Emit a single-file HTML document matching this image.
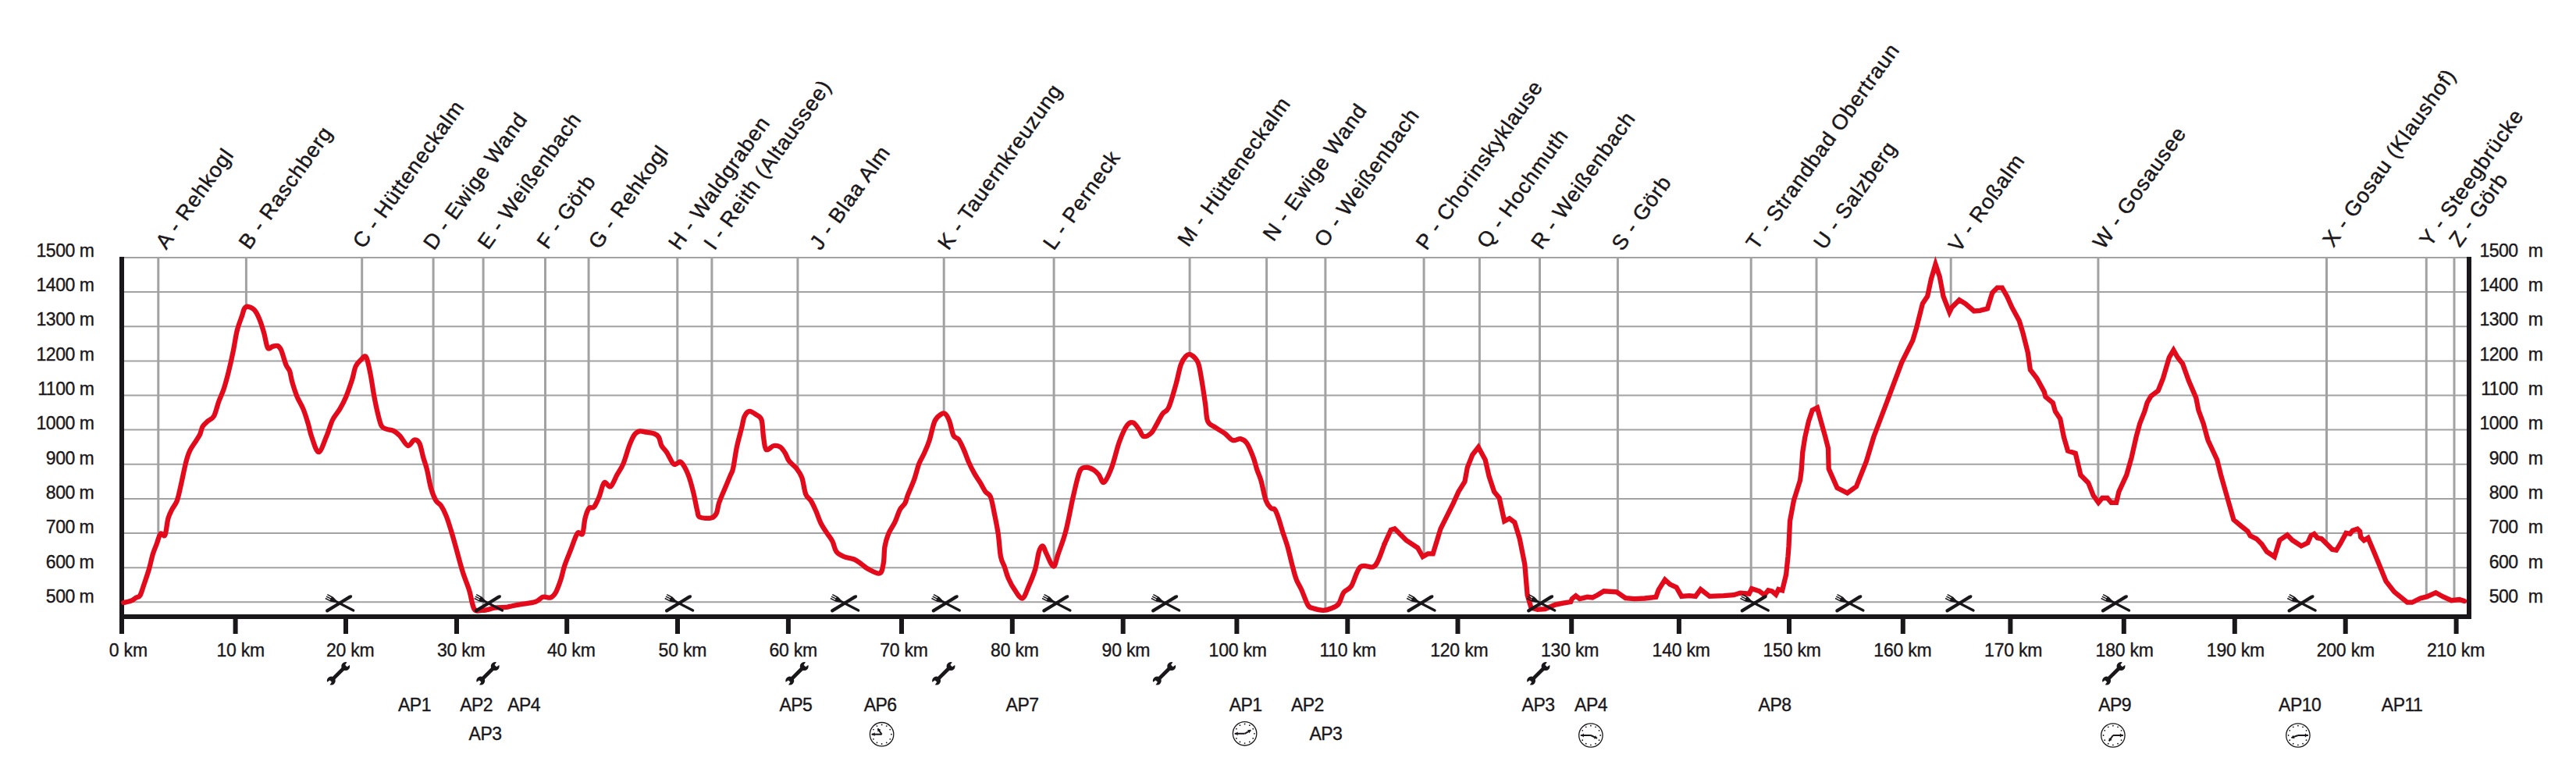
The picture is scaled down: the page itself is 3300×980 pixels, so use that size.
<!DOCTYPE html><html><head><meta charset="utf-8"><style>html,body{margin:0;padding:0;background:#fff;}body{width:3300px;height:980px;overflow:hidden;position:relative;}svg{position:absolute;left:0;top:0;}text{font-family:"Liberation Sans",sans-serif;fill:#1a171b;stroke:#1a171b;stroke-width:0.35px;}</style></head><body>
<svg width="3300" height="980" viewBox="0 0 3300 980">
<line x1="159" y1="330.0" x2="3160" y2="330.0" stroke="#a2a2a2" stroke-width="2"/>
<line x1="159" y1="374.1" x2="3160" y2="374.1" stroke="#a2a2a2" stroke-width="2"/>
<line x1="159" y1="418.3" x2="3160" y2="418.3" stroke="#a2a2a2" stroke-width="2"/>
<line x1="159" y1="462.4" x2="3160" y2="462.4" stroke="#a2a2a2" stroke-width="2"/>
<line x1="159" y1="506.5" x2="3160" y2="506.5" stroke="#a2a2a2" stroke-width="2"/>
<line x1="159" y1="550.6" x2="3160" y2="550.6" stroke="#a2a2a2" stroke-width="2"/>
<line x1="159" y1="594.8" x2="3160" y2="594.8" stroke="#a2a2a2" stroke-width="2"/>
<line x1="159" y1="638.9" x2="3160" y2="638.9" stroke="#a2a2a2" stroke-width="2"/>
<line x1="159" y1="683.0" x2="3160" y2="683.0" stroke="#a2a2a2" stroke-width="2"/>
<line x1="159" y1="727.2" x2="3160" y2="727.2" stroke="#a2a2a2" stroke-width="2"/>
<line x1="159" y1="771.3" x2="3160" y2="771.3" stroke="#a2a2a2" stroke-width="2"/>
<line x1="202.8" y1="329" x2="202.8" y2="691.3" stroke="#a2a2a2" stroke-width="3"/>
<line x1="315.4" y1="329" x2="315.4" y2="394.1" stroke="#a2a2a2" stroke-width="3"/>
<line x1="463.7" y1="329" x2="463.7" y2="459.6" stroke="#a2a2a2" stroke-width="3"/>
<line x1="555.1" y1="329" x2="555.1" y2="632.8" stroke="#a2a2a2" stroke-width="3"/>
<line x1="619.1" y1="329" x2="619.1" y2="781.6" stroke="#a2a2a2" stroke-width="3"/>
<line x1="698.5" y1="329" x2="698.5" y2="765.0" stroke="#a2a2a2" stroke-width="3"/>
<line x1="754.1" y1="329" x2="754.1" y2="651.9" stroke="#a2a2a2" stroke-width="3"/>
<line x1="867.8" y1="329" x2="867.8" y2="593.7" stroke="#a2a2a2" stroke-width="3"/>
<line x1="911.9" y1="329" x2="911.9" y2="662.9" stroke="#a2a2a2" stroke-width="3"/>
<line x1="1021.9" y1="329" x2="1021.9" y2="602.6" stroke="#a2a2a2" stroke-width="3"/>
<line x1="1209.2" y1="329" x2="1209.2" y2="530.4" stroke="#a2a2a2" stroke-width="3"/>
<line x1="1350.1" y1="329" x2="1350.1" y2="724.3" stroke="#a2a2a2" stroke-width="3"/>
<line x1="1524.1" y1="329" x2="1524.1" y2="454.7" stroke="#a2a2a2" stroke-width="3"/>
<line x1="1622.6" y1="329" x2="1622.6" y2="642.5" stroke="#a2a2a2" stroke-width="3"/>
<line x1="1697.9" y1="329" x2="1697.9" y2="781.2" stroke="#a2a2a2" stroke-width="3"/>
<line x1="1824.1" y1="329" x2="1824.1" y2="712.3" stroke="#a2a2a2" stroke-width="3"/>
<line x1="1895.4" y1="329" x2="1895.4" y2="575.5" stroke="#a2a2a2" stroke-width="3"/>
<line x1="1972.5" y1="329" x2="1972.5" y2="780.6" stroke="#a2a2a2" stroke-width="3"/>
<line x1="2072.4" y1="329" x2="2072.4" y2="759.3" stroke="#a2a2a2" stroke-width="3"/>
<line x1="2243.2" y1="329" x2="2243.2" y2="755.6" stroke="#a2a2a2" stroke-width="3"/>
<line x1="2327" y1="329" x2="2327" y2="522.8" stroke="#a2a2a2" stroke-width="3"/>
<line x1="2499.2" y1="329" x2="2499.2" y2="396.3" stroke="#a2a2a2" stroke-width="3"/>
<line x1="2687.9" y1="329" x2="2687.9" y2="643.5" stroke="#a2a2a2" stroke-width="3"/>
<line x1="2980.5" y1="329" x2="2980.5" y2="696.6" stroke="#a2a2a2" stroke-width="3"/>
<line x1="3108.3" y1="329" x2="3108.3" y2="764.6" stroke="#a2a2a2" stroke-width="3"/>
<line x1="3144" y1="329" x2="3144" y2="768.8" stroke="#a2a2a2" stroke-width="3"/>
<rect x="153" y="329" width="6" height="483" fill="#1a171b"/>
<rect x="3160" y="329" width="6" height="464" fill="#1a171b"/>
<rect x="153" y="787" width="3013" height="6" fill="#1a171b"/>
<rect x="298.6" y="790" width="6" height="22" fill="#1a171b"/>
<rect x="440.0" y="790" width="6" height="22" fill="#1a171b"/>
<rect x="582.0" y="790" width="6" height="22" fill="#1a171b"/>
<rect x="723.2" y="790" width="6" height="22" fill="#1a171b"/>
<rect x="865.0" y="790" width="6" height="22" fill="#1a171b"/>
<rect x="1006.9" y="790" width="6" height="22" fill="#1a171b"/>
<rect x="1152.0" y="790" width="6" height="22" fill="#1a171b"/>
<rect x="1293.8" y="790" width="6" height="22" fill="#1a171b"/>
<rect x="1435.7" y="790" width="6" height="22" fill="#1a171b"/>
<rect x="1581.4" y="790" width="6" height="22" fill="#1a171b"/>
<rect x="1723.3" y="790" width="6" height="22" fill="#1a171b"/>
<rect x="1864.5" y="790" width="6" height="22" fill="#1a171b"/>
<rect x="2010.2" y="790" width="6" height="22" fill="#1a171b"/>
<rect x="2147.9" y="790" width="6" height="22" fill="#1a171b"/>
<rect x="2289.0" y="790" width="6" height="22" fill="#1a171b"/>
<rect x="2434.8" y="790" width="6" height="22" fill="#1a171b"/>
<rect x="2572.4" y="790" width="6" height="22" fill="#1a171b"/>
<rect x="2717.8" y="790" width="6" height="22" fill="#1a171b"/>
<rect x="2859.8" y="790" width="6" height="22" fill="#1a171b"/>
<rect x="3001.7" y="790" width="6" height="22" fill="#1a171b"/>
<rect x="3143.6" y="790" width="6" height="22" fill="#1a171b"/>
<text x="120.3" y="328.6" font-size="23" letter-spacing="-0.5" text-anchor="end">1500 m</text>
<text x="3257.3" y="328.6" font-size="23" letter-spacing="-0.5" text-anchor="end">1500<tspan dx="13">m</tspan></text>
<text x="120.3" y="372.9" font-size="23" letter-spacing="-0.5" text-anchor="end">1400 m</text>
<text x="3257.3" y="372.9" font-size="23" letter-spacing="-0.5" text-anchor="end">1400<tspan dx="13">m</tspan></text>
<text x="120.3" y="417.3" font-size="23" letter-spacing="-0.5" text-anchor="end">1300 m</text>
<text x="3257.3" y="417.3" font-size="23" letter-spacing="-0.5" text-anchor="end">1300<tspan dx="13">m</tspan></text>
<text x="120.3" y="461.6" font-size="23" letter-spacing="-0.5" text-anchor="end">1200 m</text>
<text x="3257.3" y="461.6" font-size="23" letter-spacing="-0.5" text-anchor="end">1200<tspan dx="13">m</tspan></text>
<text x="120.3" y="506.0" font-size="23" letter-spacing="-0.5" text-anchor="end">1100 m</text>
<text x="3257.3" y="506.0" font-size="23" letter-spacing="-0.5" text-anchor="end">1100<tspan dx="13">m</tspan></text>
<text x="120.3" y="550.3" font-size="23" letter-spacing="-0.5" text-anchor="end">1000 m</text>
<text x="3257.3" y="550.3" font-size="23" letter-spacing="-0.5" text-anchor="end">1000<tspan dx="13">m</tspan></text>
<text x="120.3" y="594.6" font-size="23" letter-spacing="-0.5" text-anchor="end">900 m</text>
<text x="3257.3" y="594.6" font-size="23" letter-spacing="-0.5" text-anchor="end">900<tspan dx="13">m</tspan></text>
<text x="120.3" y="639.0" font-size="23" letter-spacing="-0.5" text-anchor="end">800 m</text>
<text x="3257.3" y="639.0" font-size="23" letter-spacing="-0.5" text-anchor="end">800<tspan dx="13">m</tspan></text>
<text x="120.3" y="683.3" font-size="23" letter-spacing="-0.5" text-anchor="end">700 m</text>
<text x="3257.3" y="683.3" font-size="23" letter-spacing="-0.5" text-anchor="end">700<tspan dx="13">m</tspan></text>
<text x="120.3" y="727.7" font-size="23" letter-spacing="-0.5" text-anchor="end">600 m</text>
<text x="3257.3" y="727.7" font-size="23" letter-spacing="-0.5" text-anchor="end">600<tspan dx="13">m</tspan></text>
<text x="120.3" y="772.0" font-size="23" letter-spacing="-0.5" text-anchor="end">500 m</text>
<text x="3257.3" y="772.0" font-size="23" letter-spacing="-0.5" text-anchor="end">500<tspan dx="13">m</tspan></text>
<text x="139.8" y="840.5" font-size="23" letter-spacing="-0.2">0 km</text>
<text x="277.4" y="840.5" font-size="23" letter-spacing="-0.2">10 km</text>
<text x="417.9" y="840.5" font-size="23" letter-spacing="-0.2">20 km</text>
<text x="559.9" y="840.5" font-size="23" letter-spacing="-0.2">30 km</text>
<text x="701" y="840.5" font-size="23" letter-spacing="-0.2">40 km</text>
<text x="843.6" y="840.5" font-size="23" letter-spacing="-0.2">50 km</text>
<text x="985.4" y="840.5" font-size="23" letter-spacing="-0.2">60 km</text>
<text x="1127.2" y="840.5" font-size="23" letter-spacing="-0.2">70 km</text>
<text x="1269.1" y="840.5" font-size="23" letter-spacing="-0.2">80 km</text>
<text x="1411.6" y="840.5" font-size="23" letter-spacing="-0.2">90 km</text>
<text x="1548.6" y="840.5" font-size="23" letter-spacing="-0.2">100 km</text>
<text x="1690.4" y="840.5" font-size="23" letter-spacing="-0.2">110 km</text>
<text x="1832.2" y="840.5" font-size="23" letter-spacing="-0.2">120 km</text>
<text x="1974" y="840.5" font-size="23" letter-spacing="-0.2">130 km</text>
<text x="2116.6" y="840.5" font-size="23" letter-spacing="-0.2">140 km</text>
<text x="2258.5" y="840.5" font-size="23" letter-spacing="-0.2">150 km</text>
<text x="2400.3" y="840.5" font-size="23" letter-spacing="-0.2">160 km</text>
<text x="2542.1" y="840.5" font-size="23" letter-spacing="-0.2">170 km</text>
<text x="2684.6" y="840.5" font-size="23" letter-spacing="-0.2">180 km</text>
<text x="2826.8" y="840.5" font-size="23" letter-spacing="-0.2">190 km</text>
<text x="2967.7" y="840.5" font-size="23" letter-spacing="-0.2">200 km</text>
<text x="3108.9" y="840.5" font-size="23" letter-spacing="-0.2">210 km</text>
<text x="510" y="910.5" font-size="23" letter-spacing="-0.5">AP1</text>
<text x="589.2" y="910.5" font-size="23" letter-spacing="-0.5">AP2</text>
<text x="650.2" y="910.5" font-size="23" letter-spacing="-0.5">AP4</text>
<text x="998.4" y="910.5" font-size="23" letter-spacing="-0.5">AP5</text>
<text x="1106.7" y="910.5" font-size="23" letter-spacing="-0.5">AP6</text>
<text x="1288.6" y="910.5" font-size="23" letter-spacing="-0.5">AP7</text>
<text x="1574.7" y="910.5" font-size="23" letter-spacing="-0.5">AP1</text>
<text x="1653.9" y="910.5" font-size="23" letter-spacing="-0.5">AP2</text>
<text x="1949.6" y="910.5" font-size="23" letter-spacing="-0.5">AP3</text>
<text x="2017.1" y="910.5" font-size="23" letter-spacing="-0.5">AP4</text>
<text x="2252.6" y="910.5" font-size="23" letter-spacing="-0.5">AP8</text>
<text x="2688.2" y="910.5" font-size="23" letter-spacing="-0.5">AP9</text>
<text x="2919.1" y="910.5" font-size="23" letter-spacing="-0.5">AP10</text>
<text x="3050.8" y="910.5" font-size="23" letter-spacing="-0.5">AP11</text>
<text x="600.6" y="948" font-size="23" letter-spacing="-0.5">AP3</text>
<text x="1677.4" y="948" font-size="23" letter-spacing="-0.5">AP3</text>
<text x="0" y="0" font-size="27" letter-spacing="1.0" style="stroke-width:0.45px" transform="translate(213.0,320.8) rotate(-54.5)">A - Rehkogl</text>
<text x="0" y="0" font-size="27" letter-spacing="1.0" style="stroke-width:0.45px" transform="translate(319.4,321.0) rotate(-54.5)">B - Raschberg</text>
<text x="0" y="0" font-size="27" letter-spacing="1.0" style="stroke-width:0.45px" transform="translate(465.4,319.8) rotate(-54.5)">C - Hütteneckalm</text>
<text x="0" y="0" font-size="27" letter-spacing="1.0" style="stroke-width:0.45px" transform="translate(555.9,321.8) rotate(-54.5)">D - Ewige Wand</text>
<text x="0" y="0" font-size="27" letter-spacing="1.0" style="stroke-width:0.45px" transform="translate(625.5,321.0) rotate(-54.5)">E - Weißenbach</text>
<text x="0" y="0" font-size="27" letter-spacing="1.0" style="stroke-width:0.45px" transform="translate(701.4,320.6) rotate(-54.5)">F - Görb</text>
<text x="0" y="0" font-size="27" letter-spacing="1.0" style="stroke-width:0.45px" transform="translate(767.4,320.8) rotate(-54.5)">G - Rehkogl</text>
<text x="0" y="0" font-size="27" letter-spacing="1.0" style="stroke-width:0.45px" transform="translate(870.1,321.8) rotate(-54.5)">H - Waldgraben</text>
<text x="0" y="0" font-size="27" letter-spacing="1.0" style="stroke-width:0.45px" transform="translate(915.3,321.8) rotate(-54.5)">I - Reith (Altaussee)</text>
<text x="0" y="0" font-size="27" letter-spacing="1.0" style="stroke-width:0.45px" transform="translate(1051.0,321.8) rotate(-54.5)">J - Blaa Alm</text>
<text x="0" y="0" font-size="27" letter-spacing="1.0" style="stroke-width:0.45px" transform="translate(1214.9,321.8) rotate(-54.5)">K - Tauernkreuzung</text>
<text x="0" y="0" font-size="27" letter-spacing="1.0" style="stroke-width:0.45px" transform="translate(1350.1,321.8) rotate(-54.5)">L - Perneck</text>
<text x="0" y="0" font-size="27" letter-spacing="1.0" style="stroke-width:0.45px" transform="translate(1522.3,317.6) rotate(-54.5)">M - Hütteneckalm</text>
<text x="0" y="0" font-size="27" letter-spacing="1.0" style="stroke-width:0.45px" transform="translate(1631.5,310.4) rotate(-54.5)">N - Ewige Wand</text>
<text x="0" y="0" font-size="27" letter-spacing="1.0" style="stroke-width:0.45px" transform="translate(1697.3,318.2) rotate(-54.5)">O - Weißenbach</text>
<text x="0" y="0" font-size="27" letter-spacing="1.0" style="stroke-width:0.45px" transform="translate(1827.5,321.8) rotate(-54.5)">P - Chorinskyklause</text>
<text x="0" y="0" font-size="27" letter-spacing="1.0" style="stroke-width:0.45px" transform="translate(1905.6,319.8) rotate(-54.5)">Q - Hochmuth</text>
<text x="0" y="0" font-size="27" letter-spacing="1.0" style="stroke-width:0.45px" transform="translate(1975.0,321.0) rotate(-54.5)">R - Weißenbach</text>
<text x="0" y="0" font-size="27" letter-spacing="1.0" style="stroke-width:0.45px" transform="translate(2078.3,322.8) rotate(-54.5)">S - Görb</text>
<text x="0" y="0" font-size="27" letter-spacing="1.0" style="stroke-width:0.45px" transform="translate(2250.6,321.4) rotate(-54.5)">T - Strandbad Obertraun</text>
<text x="0" y="0" font-size="27" letter-spacing="1.0" style="stroke-width:0.45px" transform="translate(2336.9,321.2) rotate(-54.5)">U - Salzberg</text>
<text x="0" y="0" font-size="27" letter-spacing="1.0" style="stroke-width:0.45px" transform="translate(2509.7,324.6) rotate(-54.5)">V - Roßalm</text>
<text x="0" y="0" font-size="27" letter-spacing="1.0" style="stroke-width:0.45px" transform="translate(2694.7,320.8) rotate(-54.5)">W - Gosausee</text>
<text x="0" y="0" font-size="27" letter-spacing="1.0" style="stroke-width:0.45px" transform="translate(2989.3,318.0) rotate(-54.5)">X - Gosau (Klaushof)</text>
<text x="0" y="0" font-size="27" letter-spacing="1.0" style="stroke-width:0.45px" transform="translate(3113.2,317.4) rotate(-54.5)">Y - Steegbrücke</text>
<text x="0" y="0" font-size="27" letter-spacing="1.0" style="stroke-width:0.45px" transform="translate(3151.0,318.0) rotate(-54.5)">Z - Görb</text>
<path d="M158.2,772.0 C159.8,771.6 165.3,770.8 168.0,769.7 C170.7,768.6 172.6,766.6 174.5,765.5 C176.4,764.4 177.8,765.6 179.4,762.9 C181.0,760.2 182.4,754.8 184.3,749.2 C186.2,743.6 188.9,736.0 190.8,729.5 C192.7,723.0 194.2,715.3 195.8,709.9 C197.5,704.5 199.1,701.2 200.7,696.9 C202.3,692.5 203.8,685.7 205.6,683.8 C207.4,681.9 209.8,688.7 211.4,685.4 C213.0,682.1 213.9,669.7 215.4,664.2 C216.9,658.8 218.4,656.5 220.3,652.7 C222.2,648.9 224.9,646.5 226.8,641.3 C228.7,636.1 229.8,629.9 231.7,621.7 C233.6,613.5 236.3,599.6 238.2,592.3 C240.1,584.9 240.9,582.2 243.1,577.6 C245.3,573.0 249.1,568.0 251.3,564.5 C253.5,561.0 254.8,559.3 256.2,556.3 C257.6,553.3 257.9,549.3 259.5,546.5 C261.1,543.7 263.6,541.8 266.0,539.6 C268.4,537.4 271.5,537.5 273.9,533.3 C276.3,529.1 278.1,520.2 280.2,514.5 C282.3,508.8 284.4,505.1 286.5,498.8 C288.6,492.5 290.6,485.2 292.7,476.8 C294.8,468.4 297.2,457.5 299.0,448.6 C300.8,439.7 301.9,430.8 303.7,423.5 C305.5,416.2 308.4,409.4 310.0,404.7 C311.6,400.0 311.8,397.3 313.1,395.3 C314.4,393.3 315.7,392.5 317.8,392.8 C319.9,393.1 323.4,394.4 325.7,396.9 C328.0,399.4 329.8,402.8 331.9,407.8 C334.0,412.8 336.4,420.4 338.2,426.7 C340.0,433.0 341.1,442.6 342.9,445.5 C344.7,448.4 347.1,444.3 349.2,443.9 C351.3,443.5 353.7,442.2 355.5,443.0 C357.3,443.8 358.4,444.5 360.2,448.6 C362.0,452.7 364.6,462.9 366.4,467.4 C368.2,471.8 369.8,471.6 371.1,475.3 C372.4,479.0 372.7,483.9 374.3,489.4 C375.9,494.9 378.2,502.4 380.6,508.2 C383.0,514.0 386.0,518.1 388.4,523.9 C390.8,529.6 392.9,536.7 394.7,542.7 C396.5,548.7 397.1,553.9 399.4,560.0 C401.6,566.1 405.1,579.3 408.2,579.2 C411.3,579.1 415.0,566.5 418.0,559.6 C421.0,552.7 423.1,544.0 426.0,538.0 C428.9,532.0 432.5,528.9 435.4,523.9 C438.3,518.9 440.7,514.5 443.3,508.2 C445.9,501.9 449.0,492.7 451.1,486.2 C453.2,479.7 453.7,473.4 455.8,469.0 C457.9,464.6 461.9,461.7 463.7,459.6 C465.5,457.5 465.8,456.5 466.8,456.5 C467.9,456.5 468.7,455.7 470.0,459.6 C471.3,463.5 473.1,471.9 474.7,480.0 C476.3,488.1 477.8,499.8 479.4,508.2 C481.0,516.6 482.5,523.9 484.1,530.2 C485.7,536.5 487.0,542.6 488.8,545.8 C490.6,549.0 492.4,548.5 495.0,549.6 C497.6,550.7 501.6,550.6 504.5,552.1 C507.4,553.6 509.3,555.2 512.3,558.4 C515.3,561.5 519.4,570.1 522.5,571.0 C525.6,571.9 528.2,564.0 530.7,563.5 C533.2,563.0 535.4,564.1 537.3,567.8 C539.2,571.5 540.6,580.1 542.2,585.8 C543.8,591.5 545.5,595.6 547.1,602.1 C548.7,608.6 550.1,618.5 552.0,625.0 C553.9,631.5 556.3,637.5 558.5,641.3 C560.7,645.1 562.8,644.5 565.0,647.8 C567.2,651.1 569.4,655.4 571.6,660.9 C573.8,666.4 575.9,673.4 578.1,680.5 C580.3,687.6 582.2,694.7 584.6,703.4 C587.0,712.1 590.1,724.1 592.8,732.8 C595.5,741.5 598.5,747.8 601.0,755.7 C603.5,763.6 604.8,775.9 607.5,780.2 C610.2,784.6 614.6,781.6 617.3,781.8 C620.0,782.0 621.2,781.7 623.9,781.2 C626.6,780.7 629.6,779.2 633.7,778.6 C637.8,778.0 645.2,778.2 648.4,777.9 C651.6,777.6 650.1,777.5 653.1,776.9 C656.1,776.3 660.7,775.3 666.1,774.3 C671.5,773.3 680.9,772.6 685.8,771.0 C690.7,769.4 692.3,765.7 695.6,764.8 C698.9,763.9 702.7,766.5 705.4,765.5 C708.1,764.5 709.7,762.8 711.9,759.0 C714.1,755.2 716.5,748.3 718.4,742.6 C720.3,736.9 721.1,731.1 723.3,724.6 C725.5,718.1 728.8,710.3 731.5,703.4 C734.2,696.5 737.2,686.4 739.7,683.1 C742.2,679.8 744.6,686.9 746.2,683.8 C747.8,680.6 748.1,669.7 749.5,664.2 C750.9,658.8 752.5,653.6 754.4,651.1 C756.3,648.6 758.7,652.0 760.9,649.5 C763.1,647.0 765.3,641.6 767.5,636.4 C769.7,631.2 771.5,620.6 774.0,618.4 C776.5,616.2 779.5,624.9 782.2,623.3 C784.9,621.7 787.6,613.5 790.3,608.6 C793.0,603.7 795.8,600.4 798.5,593.9 C801.2,587.4 804.2,575.7 806.7,569.4 C809.2,563.1 811.0,559.1 813.2,556.3 C815.4,553.5 817.2,552.8 819.7,552.4 C822.2,552.0 825.2,553.2 828.2,553.7 C831.2,554.2 835.0,554.2 837.6,555.3 C840.2,556.3 842.2,557.4 843.9,560.0 C845.5,562.6 845.8,567.8 847.5,571.0 C849.2,574.2 851.5,575.4 854.0,579.2 C856.5,583.0 860.0,591.5 862.2,593.9 C864.4,596.3 865.4,594.2 867.1,593.9 C868.9,593.6 870.2,589.8 872.7,592.3 C875.2,594.8 879.2,602.1 881.8,608.6 C884.4,615.1 886.5,623.9 888.4,631.5 C890.3,639.1 891.9,649.2 893.3,654.4 C894.6,659.6 893.5,661.0 896.5,662.5 C899.5,664.0 907.7,664.3 911.2,663.5 C914.8,662.7 916.2,660.8 917.8,657.6 C919.4,654.5 919.4,649.5 921.0,644.6 C922.6,639.7 925.1,634.2 927.6,628.2 C930.1,622.2 933.9,613.2 935.8,608.6 C937.7,604.0 937.6,606.5 939.0,600.5 C940.4,594.5 942.0,581.7 943.9,572.7 C945.8,563.7 948.9,553.1 950.5,546.5 C952.1,539.9 952.1,536.5 953.7,533.3 C955.3,530.0 957.4,527.3 960.0,527.0 C962.6,526.7 966.8,529.9 969.4,531.7 C972.0,533.5 974.1,533.3 975.6,538.0 C977.1,542.7 977.1,553.7 978.1,560.0 C979.1,566.3 979.3,574.2 981.5,576.0 C983.7,577.8 988.3,571.5 991.3,571.0 C994.3,570.5 997.0,571.1 999.5,572.7 C1002.0,574.3 1004.1,577.8 1006.0,580.8 C1007.9,583.8 1008.4,587.4 1010.9,590.7 C1013.4,594.0 1018.0,597.0 1020.7,600.5 C1023.4,604.0 1025.4,606.5 1027.3,611.9 C1029.2,617.3 1030.3,628.2 1032.2,633.1 C1034.1,638.0 1036.5,637.8 1038.7,641.3 C1040.9,644.8 1043.0,649.5 1045.2,654.4 C1047.4,659.3 1049.3,665.8 1051.8,670.7 C1054.3,675.6 1057.5,680.0 1060.0,683.8 C1062.5,687.6 1064.6,689.8 1066.5,693.6 C1068.4,697.4 1069.0,703.4 1071.4,706.7 C1073.9,710.0 1077.4,711.6 1081.2,713.2 C1085.0,714.8 1090.4,714.9 1094.2,716.5 C1098.0,718.1 1101.0,720.9 1104.0,723.0 C1107.0,725.1 1108.4,727.0 1112.2,728.9 C1116.0,730.8 1123.6,735.6 1126.9,734.4 C1130.2,733.1 1130.7,727.1 1131.8,721.4 C1132.9,715.7 1132.4,706.4 1133.5,700.1 C1134.6,693.8 1136.1,689.0 1138.2,683.8 C1140.3,678.6 1143.8,674.3 1146.3,669.1 C1148.8,663.9 1150.7,656.8 1152.9,652.7 C1155.1,648.6 1157.8,647.6 1159.4,644.6 C1161.0,641.6 1160.8,639.7 1162.7,634.8 C1164.6,629.9 1168.3,622.0 1170.8,615.2 C1173.2,608.4 1175.2,599.6 1177.4,593.9 C1179.6,588.2 1181.7,585.7 1183.9,580.8 C1186.1,575.9 1188.2,571.4 1190.5,564.5 C1192.8,557.6 1194.9,545.2 1197.4,539.6 C1199.9,534.0 1203.0,532.4 1205.3,530.8 C1207.5,529.2 1209.1,528.7 1210.9,530.2 C1212.7,531.7 1214.5,535.0 1216.3,539.6 C1218.1,544.2 1219.5,554.1 1221.5,558.0 C1223.5,561.9 1225.8,559.9 1228.0,562.9 C1230.2,565.9 1232.4,571.0 1234.6,575.9 C1236.8,580.8 1238.9,587.4 1241.1,592.3 C1243.3,597.2 1245.1,601.0 1247.6,605.4 C1250.0,609.8 1253.3,614.3 1255.8,618.4 C1258.3,622.5 1260.2,626.9 1262.4,629.9 C1264.6,632.9 1267.0,631.8 1268.9,636.4 C1270.8,641.0 1272.2,649.7 1273.8,657.6 C1275.4,665.5 1277.3,674.5 1278.7,683.8 C1280.1,693.1 1280.6,706.1 1282.0,713.2 C1283.4,720.3 1285.3,721.7 1286.9,726.3 C1288.5,730.9 1289.6,736.1 1291.8,741.0 C1294.0,745.9 1296.9,751.5 1299.9,755.7 C1302.9,760.0 1306.7,767.3 1309.7,766.5 C1312.7,765.7 1315.2,757.0 1317.9,750.8 C1320.6,744.6 1323.9,736.9 1326.1,729.5 C1328.3,722.1 1329.4,711.7 1331.0,706.7 C1332.6,701.7 1334.3,699.0 1335.9,699.5 C1337.5,700.0 1338.5,705.5 1340.8,709.9 C1343.1,714.2 1347.1,725.6 1349.6,725.6 C1352.0,725.6 1352.9,717.4 1355.5,709.9 C1358.1,702.4 1362.0,693.0 1365.3,680.5 C1368.6,668.0 1372.1,647.6 1375.1,634.8 C1378.1,622.0 1380.6,609.7 1383.3,603.7 C1386.0,597.7 1388.4,599.1 1391.4,598.8 C1394.4,598.5 1398.5,600.5 1401.2,602.1 C1403.9,603.7 1405.6,606.0 1407.8,608.6 C1410.0,611.2 1411.6,619.4 1414.3,617.8 C1417.0,616.2 1420.8,607.4 1424.1,598.8 C1427.4,590.2 1430.6,575.1 1433.9,566.1 C1437.2,557.1 1440.7,549.1 1443.7,545.0 C1446.7,540.9 1449.1,540.6 1451.7,541.5 C1454.3,542.4 1457.2,547.6 1459.4,550.5 C1461.6,553.4 1462.4,558.3 1465.0,559.0 C1467.6,559.7 1472.1,557.2 1474.8,554.7 C1477.5,552.2 1478.9,548.4 1481.3,544.3 C1483.7,540.2 1486.6,533.9 1489.2,530.2 C1491.8,526.5 1494.1,528.6 1497.0,522.3 C1499.9,516.0 1503.8,501.6 1506.4,492.5 C1509.0,483.4 1510.6,473.4 1512.7,467.4 C1514.8,461.4 1516.9,458.7 1519.0,456.5 C1521.1,454.3 1522.6,453.0 1525.2,454.3 C1527.8,455.6 1532.2,459.0 1534.6,464.3 C1536.9,469.6 1537.7,477.3 1539.3,486.2 C1540.9,495.1 1542.8,508.7 1544.1,517.6 C1545.4,526.5 1545.1,534.6 1547.2,539.6 C1549.3,544.6 1552.9,544.8 1556.6,547.4 C1560.2,550.0 1565.3,552.5 1569.1,555.3 C1572.9,558.1 1575.9,562.9 1579.3,564.0 C1582.7,565.1 1586.2,561.6 1589.2,562.2 C1592.2,562.8 1594.6,563.9 1597.3,567.8 C1600.0,571.7 1603.3,580.1 1605.5,585.8 C1607.7,591.5 1608.8,597.2 1610.4,602.1 C1612.0,607.0 1613.4,608.7 1615.3,615.2 C1617.2,621.7 1619.6,635.3 1621.8,641.3 C1624.0,647.3 1626.5,649.2 1628.4,651.1 C1630.3,653.0 1631.5,650.5 1633.1,652.7 C1634.7,654.9 1636.4,659.6 1638.0,664.2 C1639.6,668.8 1641.0,674.5 1642.9,680.5 C1644.8,686.5 1647.2,692.5 1649.4,700.1 C1651.6,707.7 1654.1,719.2 1656.0,726.3 C1657.9,733.4 1658.9,737.7 1660.8,742.6 C1662.7,747.5 1664.9,750.2 1667.4,755.7 C1669.9,761.2 1673.1,771.4 1675.6,775.3 C1678.0,779.2 1678.8,778.1 1682.1,779.2 C1685.4,780.3 1691.4,781.8 1695.2,781.8 C1699.0,781.8 1701.7,780.9 1705.0,779.5 C1708.3,778.1 1712.1,777.1 1714.8,773.7 C1717.5,770.3 1718.6,762.8 1721.3,759.0 C1724.0,755.2 1727.6,756.2 1731.1,750.8 C1734.6,745.3 1737.9,730.4 1742.5,726.3 C1747.1,722.2 1755.1,727.7 1758.9,726.3 C1762.7,724.9 1763.0,723.0 1765.4,718.1 C1767.9,713.2 1772.2,700.4 1773.6,696.9" fill="none" stroke="#e30a1b" stroke-width="6.3" stroke-linejoin="round" stroke-linecap="round"/>
<path d="M1773.6,696.9 L1781.8,678.9 L1786.7,677.3 L1801.4,692.0 L1816.1,701.8 L1822.6,713.2 L1829.2,709.3 L1835.7,709.3 L1845.5,677.3 L1861.8,644.6 L1868.4,629.9 L1876.5,616.8 L1879.8,598.8 L1886.3,582.5 L1893.9,572.7 L1902.7,589.0 L1907.6,610.3 L1914.1,629.9 L1920.7,638.0 L1927.2,667.5 L1933.7,664.2 L1940.3,669.1 L1946.8,690.3 L1953.3,723.0 L1956.6,762.2 L1961.5,778.6 L1969.7,780.8 L1979.5,780.2 L1992.5,774.6 L2002.4,772.7 L2012.2,771.0 L2013.8,767.1 L2018.7,763.2 L2023.6,767.1 L2033.4,764.8 L2040.0,765.5 L2046.5,762.2 L2054.6,757.3 L2071.0,758.3 L2082.4,766.1 L2093.9,767.1 L2106.9,766.5 L2121.4,764.8 L2124.7,755.7 L2132.9,742.6 L2139.4,748.5 L2147.6,752.4 L2154.1,763.9 L2163.9,763.2 L2172.1,763.9 L2178.6,755.0 L2190.1,763.9 L2208.0,763.2 L2221.1,762.2 L2229.3,759.6 L2240.7,760.6 L2244.0,754.0 L2253.8,757.3 L2260.3,762.2 L2265.2,756.3 L2270.1,757.3 L2275.0,761.6 L2278.3,755.0 L2283.2,756.3 L2288.1,736.1 L2290.5,713.0 L2291.5,700.0 L2293.0,667.5 L2297.9,641.3 L2306.1,615.2 L2307.7,602.1 L2309.3,579.2 L2312.3,560.0 L2317.0,539.6 L2321.7,525.5 L2328.0,522.3 L2332.7,539.6 L2338.4,560.0 L2342.0,574.3 L2342.7,600.5 L2353.5,625.0 L2366.5,631.5 L2378.0,623.3 L2391.0,590.7 L2400.2,560.0 L2417.4,514.5 L2436.2,464.3 L2450.3,436.1 L2455.0,420.4 L2462.9,389.0 L2469.2,379.6 L2473.9,357.6 L2479.5,338.5 L2484.8,354.5 L2489.5,379.6 L2497.4,400.0 L2500.5,393.7 L2510.0,384.3 L2517.8,389.0 L2528.8,398.4 L2536.6,397.8 L2546.0,395.3 L2552.3,374.9 L2558.6,368.6 L2564.8,368.6 L2571.1,379.6 L2577.4,393.7 L2586.8,411.0 L2591.5,426.7 L2597.8,451.7 L2600.9,473.7 L2609.4,484.7 L2618.8,501.9 L2620.4,508.2 L2629.8,516.0 L2632.9,527.0 L2639.2,536.4 L2642.3,552.1 L2643.9,560.0 L2649.0,577.6 L2658.8,580.8 L2665.4,608.6 L2675.2,618.4 L2681.7,634.8 L2688.2,643.9 L2693.1,638.0 L2699.7,638.0 L2704.6,643.9 L2711.1,643.9 L2714.4,629.9 L2724.2,608.6 L2730.7,585.8 L2736.5,560.0 L2741.2,542.7 L2747.4,527.0 L2750.6,516.0 L2755.3,507.6 L2764.7,500.4 L2771.0,484.7 L2778.8,458.0 L2784.4,448.6 L2789.8,458.0 L2796.0,465.9 L2803.9,487.8 L2813.3,509.8 L2816.4,525.5 L2822.7,542.7 L2827.4,560.0 L2828.8,564.5 L2840.2,589.0 L2845.1,608.6 L2851.6,631.5 L2861.4,665.8 L2871.2,674.0 L2879.4,680.5 L2882.7,686.4 L2890.8,690.3 L2897.4,696.9 L2903.9,706.7 L2913.7,713.2 L2920.3,692.0 L2930.1,685.4 L2936.6,692.0 L2948.0,699.5 L2956.3,695.4 L2960.5,686.0 L2964.6,683.9 L2968.8,689.1 L2974.0,690.2 L2981.4,697.5 L2987.6,703.8 L2992.9,704.8 L2998.1,696.5 L3005.4,682.9 L3010.6,683.9 L3013.8,679.7 L3020.0,677.6 L3023.2,680.8 L3024.2,688.1 L3028.4,692.3 L3033.6,689.1 L3042.0,709.0 L3056.6,744.6 L3067.1,758.1 L3083.8,771.7 L3090.1,771.7 L3100.6,766.5 L3108.9,764.4 L3120.4,759.2 L3129.8,764.4 L3140.3,769.2 L3150.7,768.0 L3157.0,770.0" fill="none" stroke="#e30a1b" stroke-width="6.3" stroke-linejoin="miter" stroke-miterlimit="5" stroke-linecap="round"/>
<g transform="translate(435,772.8)"><g transform="rotate(-31.1)"><path d="M-18.5,0 L0,0" stroke="#1a171b" stroke-width="4.2" stroke-linecap="round"/><path d="M-1,-2.1 L15,-2.3 Q19,-2 18.6,0.6 L17,2 L-1,2.1 Z" fill="#1a171b"/></g><g transform="rotate(207.3)"><path d="M-20,0 L7,0" stroke="#1a171b" stroke-width="3.2" stroke-linecap="round"/><path d="M6,-1.8 L11,-3.5 L19,-3.5 L19,-1.95 L12.8,-1.95 L12.8,-0.75 L19,-0.75 L19,0.75 L12.8,0.75 L12.8,1.95 L19,1.95 L19,3.5 L11,3.5 L6,1.8 Z" fill="#1a171b"/></g></g>
<g transform="translate(625.8,772.8)"><g transform="rotate(-31.1)"><path d="M-18.5,0 L0,0" stroke="#1a171b" stroke-width="4.2" stroke-linecap="round"/><path d="M-1,-2.1 L15,-2.3 Q19,-2 18.6,0.6 L17,2 L-1,2.1 Z" fill="#1a171b"/></g><g transform="rotate(207.3)"><path d="M-20,0 L7,0" stroke="#1a171b" stroke-width="3.2" stroke-linecap="round"/><path d="M6,-1.8 L11,-3.5 L19,-3.5 L19,-1.95 L12.8,-1.95 L12.8,-0.75 L19,-0.75 L19,0.75 L12.8,0.75 L12.8,1.95 L19,1.95 L19,3.5 L11,3.5 L6,1.8 Z" fill="#1a171b"/></g></g>
<g transform="translate(869.9,772.8)"><g transform="rotate(-31.1)"><path d="M-18.5,0 L0,0" stroke="#1a171b" stroke-width="4.2" stroke-linecap="round"/><path d="M-1,-2.1 L15,-2.3 Q19,-2 18.6,0.6 L17,2 L-1,2.1 Z" fill="#1a171b"/></g><g transform="rotate(207.3)"><path d="M-20,0 L7,0" stroke="#1a171b" stroke-width="3.2" stroke-linecap="round"/><path d="M6,-1.8 L11,-3.5 L19,-3.5 L19,-1.95 L12.8,-1.95 L12.8,-0.75 L19,-0.75 L19,0.75 L12.8,0.75 L12.8,1.95 L19,1.95 L19,3.5 L11,3.5 L6,1.8 Z" fill="#1a171b"/></g></g>
<g transform="translate(1082,772.8)"><g transform="rotate(-31.1)"><path d="M-18.5,0 L0,0" stroke="#1a171b" stroke-width="4.2" stroke-linecap="round"/><path d="M-1,-2.1 L15,-2.3 Q19,-2 18.6,0.6 L17,2 L-1,2.1 Z" fill="#1a171b"/></g><g transform="rotate(207.3)"><path d="M-20,0 L7,0" stroke="#1a171b" stroke-width="3.2" stroke-linecap="round"/><path d="M6,-1.8 L11,-3.5 L19,-3.5 L19,-1.95 L12.8,-1.95 L12.8,-0.75 L19,-0.75 L19,0.75 L12.8,0.75 L12.8,1.95 L19,1.95 L19,3.5 L11,3.5 L6,1.8 Z" fill="#1a171b"/></g></g>
<g transform="translate(1211.6,772.8)"><g transform="rotate(-31.1)"><path d="M-18.5,0 L0,0" stroke="#1a171b" stroke-width="4.2" stroke-linecap="round"/><path d="M-1,-2.1 L15,-2.3 Q19,-2 18.6,0.6 L17,2 L-1,2.1 Z" fill="#1a171b"/></g><g transform="rotate(207.3)"><path d="M-20,0 L7,0" stroke="#1a171b" stroke-width="3.2" stroke-linecap="round"/><path d="M6,-1.8 L11,-3.5 L19,-3.5 L19,-1.95 L12.8,-1.95 L12.8,-0.75 L19,-0.75 L19,0.75 L12.8,0.75 L12.8,1.95 L19,1.95 L19,3.5 L11,3.5 L6,1.8 Z" fill="#1a171b"/></g></g>
<g transform="translate(1353.2,772.8)"><g transform="rotate(-31.1)"><path d="M-18.5,0 L0,0" stroke="#1a171b" stroke-width="4.2" stroke-linecap="round"/><path d="M-1,-2.1 L15,-2.3 Q19,-2 18.6,0.6 L17,2 L-1,2.1 Z" fill="#1a171b"/></g><g transform="rotate(207.3)"><path d="M-20,0 L7,0" stroke="#1a171b" stroke-width="3.2" stroke-linecap="round"/><path d="M6,-1.8 L11,-3.5 L19,-3.5 L19,-1.95 L12.8,-1.95 L12.8,-0.75 L19,-0.75 L19,0.75 L12.8,0.75 L12.8,1.95 L19,1.95 L19,3.5 L11,3.5 L6,1.8 Z" fill="#1a171b"/></g></g>
<g transform="translate(1493,772.8)"><g transform="rotate(-31.1)"><path d="M-18.5,0 L0,0" stroke="#1a171b" stroke-width="4.2" stroke-linecap="round"/><path d="M-1,-2.1 L15,-2.3 Q19,-2 18.6,0.6 L17,2 L-1,2.1 Z" fill="#1a171b"/></g><g transform="rotate(207.3)"><path d="M-20,0 L7,0" stroke="#1a171b" stroke-width="3.2" stroke-linecap="round"/><path d="M6,-1.8 L11,-3.5 L19,-3.5 L19,-1.95 L12.8,-1.95 L12.8,-0.75 L19,-0.75 L19,0.75 L12.8,0.75 L12.8,1.95 L19,1.95 L19,3.5 L11,3.5 L6,1.8 Z" fill="#1a171b"/></g></g>
<g transform="translate(1820.3,772.8)"><g transform="rotate(-31.1)"><path d="M-18.5,0 L0,0" stroke="#1a171b" stroke-width="4.2" stroke-linecap="round"/><path d="M-1,-2.1 L15,-2.3 Q19,-2 18.6,0.6 L17,2 L-1,2.1 Z" fill="#1a171b"/></g><g transform="rotate(207.3)"><path d="M-20,0 L7,0" stroke="#1a171b" stroke-width="3.2" stroke-linecap="round"/><path d="M6,-1.8 L11,-3.5 L19,-3.5 L19,-1.95 L12.8,-1.95 L12.8,-0.75 L19,-0.75 L19,0.75 L12.8,0.75 L12.8,1.95 L19,1.95 L19,3.5 L11,3.5 L6,1.8 Z" fill="#1a171b"/></g></g>
<g transform="translate(1974,772.8)"><g transform="rotate(-31.1)"><path d="M-18.5,0 L0,0" stroke="#1a171b" stroke-width="4.2" stroke-linecap="round"/><path d="M-1,-2.1 L15,-2.3 Q19,-2 18.6,0.6 L17,2 L-1,2.1 Z" fill="#1a171b"/></g><g transform="rotate(207.3)"><path d="M-20,0 L7,0" stroke="#1a171b" stroke-width="3.2" stroke-linecap="round"/><path d="M6,-1.8 L11,-3.5 L19,-3.5 L19,-1.95 L12.8,-1.95 L12.8,-0.75 L19,-0.75 L19,0.75 L12.8,0.75 L12.8,1.95 L19,1.95 L19,3.5 L11,3.5 L6,1.8 Z" fill="#1a171b"/></g></g>
<g transform="translate(2247.6,772.8)"><g transform="rotate(-31.1)"><path d="M-18.5,0 L0,0" stroke="#1a171b" stroke-width="4.2" stroke-linecap="round"/><path d="M-1,-2.1 L15,-2.3 Q19,-2 18.6,0.6 L17,2 L-1,2.1 Z" fill="#1a171b"/></g><g transform="rotate(207.3)"><path d="M-20,0 L7,0" stroke="#1a171b" stroke-width="3.2" stroke-linecap="round"/><path d="M6,-1.8 L11,-3.5 L19,-3.5 L19,-1.95 L12.8,-1.95 L12.8,-0.75 L19,-0.75 L19,0.75 L12.8,0.75 L12.8,1.95 L19,1.95 L19,3.5 L11,3.5 L6,1.8 Z" fill="#1a171b"/></g></g>
<g transform="translate(2369.2,772.8)"><g transform="rotate(-31.1)"><path d="M-18.5,0 L0,0" stroke="#1a171b" stroke-width="4.2" stroke-linecap="round"/><path d="M-1,-2.1 L15,-2.3 Q19,-2 18.6,0.6 L17,2 L-1,2.1 Z" fill="#1a171b"/></g><g transform="rotate(207.3)"><path d="M-20,0 L7,0" stroke="#1a171b" stroke-width="3.2" stroke-linecap="round"/><path d="M6,-1.8 L11,-3.5 L19,-3.5 L19,-1.95 L12.8,-1.95 L12.8,-0.75 L19,-0.75 L19,0.75 L12.8,0.75 L12.8,1.95 L19,1.95 L19,3.5 L11,3.5 L6,1.8 Z" fill="#1a171b"/></g></g>
<g transform="translate(2510.3,772.8)"><g transform="rotate(-31.1)"><path d="M-18.5,0 L0,0" stroke="#1a171b" stroke-width="4.2" stroke-linecap="round"/><path d="M-1,-2.1 L15,-2.3 Q19,-2 18.6,0.6 L17,2 L-1,2.1 Z" fill="#1a171b"/></g><g transform="rotate(207.3)"><path d="M-20,0 L7,0" stroke="#1a171b" stroke-width="3.2" stroke-linecap="round"/><path d="M6,-1.8 L11,-3.5 L19,-3.5 L19,-1.95 L12.8,-1.95 L12.8,-0.75 L19,-0.75 L19,0.75 L12.8,0.75 L12.8,1.95 L19,1.95 L19,3.5 L11,3.5 L6,1.8 Z" fill="#1a171b"/></g></g>
<g transform="translate(2709.8,772.8)"><g transform="rotate(-31.1)"><path d="M-18.5,0 L0,0" stroke="#1a171b" stroke-width="4.2" stroke-linecap="round"/><path d="M-1,-2.1 L15,-2.3 Q19,-2 18.6,0.6 L17,2 L-1,2.1 Z" fill="#1a171b"/></g><g transform="rotate(207.3)"><path d="M-20,0 L7,0" stroke="#1a171b" stroke-width="3.2" stroke-linecap="round"/><path d="M6,-1.8 L11,-3.5 L19,-3.5 L19,-1.95 L12.8,-1.95 L12.8,-0.75 L19,-0.75 L19,0.75 L12.8,0.75 L12.8,1.95 L19,1.95 L19,3.5 L11,3.5 L6,1.8 Z" fill="#1a171b"/></g></g>
<g transform="translate(2948.4,772.8)"><g transform="rotate(-31.1)"><path d="M-18.5,0 L0,0" stroke="#1a171b" stroke-width="4.2" stroke-linecap="round"/><path d="M-1,-2.1 L15,-2.3 Q19,-2 18.6,0.6 L17,2 L-1,2.1 Z" fill="#1a171b"/></g><g transform="rotate(207.3)"><path d="M-20,0 L7,0" stroke="#1a171b" stroke-width="3.2" stroke-linecap="round"/><path d="M6,-1.8 L11,-3.5 L19,-3.5 L19,-1.95 L12.8,-1.95 L12.8,-0.75 L19,-0.75 L19,0.75 L12.8,0.75 L12.8,1.95 L19,1.95 L19,3.5 L11,3.5 L6,1.8 Z" fill="#1a171b"/></g></g>
<g transform="translate(433.5,862.8) rotate(-45) scale(0.87)"><path d="M-14,0 L14,0" stroke="#1a171b" stroke-width="5.5"/><circle cx="-15" cy="0" r="6.3" fill="#1a171b"/><circle cx="15" cy="0" r="6.3" fill="#1a171b"/><path d="M-24,-3.5 L-16,-2 L-16,2 L-24,3.5 Z" fill="#fff"/><path d="M24,-3.5 L16,-2 L16,2 L24,3.5 Z" fill="#fff"/></g>
<g transform="translate(625,862.8) rotate(-45) scale(0.87)"><path d="M-14,0 L14,0" stroke="#1a171b" stroke-width="5.5"/><circle cx="-15" cy="0" r="6.3" fill="#1a171b"/><circle cx="15" cy="0" r="6.3" fill="#1a171b"/><path d="M-24,-3.5 L-16,-2 L-16,2 L-24,3.5 Z" fill="#fff"/><path d="M24,-3.5 L16,-2 L16,2 L24,3.5 Z" fill="#fff"/></g>
<g transform="translate(1021,862.8) rotate(-45) scale(0.87)"><path d="M-14,0 L14,0" stroke="#1a171b" stroke-width="5.5"/><circle cx="-15" cy="0" r="6.3" fill="#1a171b"/><circle cx="15" cy="0" r="6.3" fill="#1a171b"/><path d="M-24,-3.5 L-16,-2 L-16,2 L-24,3.5 Z" fill="#fff"/><path d="M24,-3.5 L16,-2 L16,2 L24,3.5 Z" fill="#fff"/></g>
<g transform="translate(1208.8,862.8) rotate(-45) scale(0.87)"><path d="M-14,0 L14,0" stroke="#1a171b" stroke-width="5.5"/><circle cx="-15" cy="0" r="6.3" fill="#1a171b"/><circle cx="15" cy="0" r="6.3" fill="#1a171b"/><path d="M-24,-3.5 L-16,-2 L-16,2 L-24,3.5 Z" fill="#fff"/><path d="M24,-3.5 L16,-2 L16,2 L24,3.5 Z" fill="#fff"/></g>
<g transform="translate(1491.5,862.8) rotate(-45) scale(0.87)"><path d="M-14,0 L14,0" stroke="#1a171b" stroke-width="5.5"/><circle cx="-15" cy="0" r="6.3" fill="#1a171b"/><circle cx="15" cy="0" r="6.3" fill="#1a171b"/><path d="M-24,-3.5 L-16,-2 L-16,2 L-24,3.5 Z" fill="#fff"/><path d="M24,-3.5 L16,-2 L16,2 L24,3.5 Z" fill="#fff"/></g>
<g transform="translate(1970.8,862.8) rotate(-45) scale(0.87)"><path d="M-14,0 L14,0" stroke="#1a171b" stroke-width="5.5"/><circle cx="-15" cy="0" r="6.3" fill="#1a171b"/><circle cx="15" cy="0" r="6.3" fill="#1a171b"/><path d="M-24,-3.5 L-16,-2 L-16,2 L-24,3.5 Z" fill="#fff"/><path d="M24,-3.5 L16,-2 L16,2 L24,3.5 Z" fill="#fff"/></g>
<g transform="translate(2707.8,862.8) rotate(-45) scale(0.87)"><path d="M-14,0 L14,0" stroke="#1a171b" stroke-width="5.5"/><circle cx="-15" cy="0" r="6.3" fill="#1a171b"/><circle cx="15" cy="0" r="6.3" fill="#1a171b"/><path d="M-24,-3.5 L-16,-2 L-16,2 L-24,3.5 Z" fill="#fff"/><path d="M24,-3.5 L16,-2 L16,2 L24,3.5 Z" fill="#fff"/></g>
<circle cx="1129.6" cy="940.7" r="15.2" fill="none" stroke="#1a171b" stroke-width="1.3"/><circle cx="1129.60" cy="928.40" r="0.9" fill="#1a171b"/><circle cx="1135.75" cy="930.05" r="0.9" fill="#1a171b"/><circle cx="1140.25" cy="934.55" r="0.9" fill="#1a171b"/><circle cx="1141.90" cy="940.70" r="0.9" fill="#1a171b"/><circle cx="1140.25" cy="946.85" r="0.9" fill="#1a171b"/><circle cx="1135.75" cy="951.35" r="0.9" fill="#1a171b"/><circle cx="1129.60" cy="953.00" r="0.9" fill="#1a171b"/><circle cx="1123.45" cy="951.35" r="0.9" fill="#1a171b"/><circle cx="1118.95" cy="946.85" r="0.9" fill="#1a171b"/><circle cx="1117.30" cy="940.70" r="0.9" fill="#1a171b"/><circle cx="1118.95" cy="934.55" r="0.9" fill="#1a171b"/><circle cx="1123.45" cy="930.05" r="0.9" fill="#1a171b"/><line x1="1129.6" y1="940.7" x2="1117.10" y2="940.70" stroke="#1a171b" stroke-width="2"/><path d="M1117.10,940.70 L1120.60,938.30 L1120.60,943.10 Z" fill="#1a171b"/><line x1="1129.6" y1="940.7" x2="1124.44" y2="933.33" stroke="#1a171b" stroke-width="2"/><path d="M1124.44,933.33 L1128.41,934.82 L1124.48,937.57 Z" fill="#1a171b"/>
<circle cx="1594.6" cy="939.8" r="15.2" fill="none" stroke="#1a171b" stroke-width="1.3"/><circle cx="1594.60" cy="927.50" r="0.9" fill="#1a171b"/><circle cx="1600.75" cy="929.15" r="0.9" fill="#1a171b"/><circle cx="1605.25" cy="933.65" r="0.9" fill="#1a171b"/><circle cx="1606.90" cy="939.80" r="0.9" fill="#1a171b"/><circle cx="1605.25" cy="945.95" r="0.9" fill="#1a171b"/><circle cx="1600.75" cy="950.45" r="0.9" fill="#1a171b"/><circle cx="1594.60" cy="952.10" r="0.9" fill="#1a171b"/><circle cx="1588.45" cy="950.45" r="0.9" fill="#1a171b"/><circle cx="1583.95" cy="945.95" r="0.9" fill="#1a171b"/><circle cx="1582.30" cy="939.80" r="0.9" fill="#1a171b"/><circle cx="1583.95" cy="933.65" r="0.9" fill="#1a171b"/><circle cx="1588.45" cy="929.15" r="0.9" fill="#1a171b"/><line x1="1594.6" y1="939.8" x2="1582.10" y2="939.80" stroke="#1a171b" stroke-width="2"/><path d="M1582.10,939.80 L1585.60,937.40 L1585.60,942.20 Z" fill="#1a171b"/><line x1="1594.6" y1="939.8" x2="1602.39" y2="935.30" stroke="#1a171b" stroke-width="2"/><path d="M1602.39,935.30 L1600.56,939.13 L1598.16,934.97 Z" fill="#1a171b"/>
<circle cx="2037.9" cy="942" r="15.2" fill="none" stroke="#1a171b" stroke-width="1.3"/><circle cx="2037.90" cy="929.70" r="0.9" fill="#1a171b"/><circle cx="2044.05" cy="931.35" r="0.9" fill="#1a171b"/><circle cx="2048.55" cy="935.85" r="0.9" fill="#1a171b"/><circle cx="2050.20" cy="942.00" r="0.9" fill="#1a171b"/><circle cx="2048.55" cy="948.15" r="0.9" fill="#1a171b"/><circle cx="2044.05" cy="952.65" r="0.9" fill="#1a171b"/><circle cx="2037.90" cy="954.30" r="0.9" fill="#1a171b"/><circle cx="2031.75" cy="952.65" r="0.9" fill="#1a171b"/><circle cx="2027.25" cy="948.15" r="0.9" fill="#1a171b"/><circle cx="2025.60" cy="942.00" r="0.9" fill="#1a171b"/><circle cx="2027.25" cy="935.85" r="0.9" fill="#1a171b"/><circle cx="2031.75" cy="931.35" r="0.9" fill="#1a171b"/><line x1="2037.9" y1="942" x2="2025.40" y2="942.00" stroke="#1a171b" stroke-width="2"/><path d="M2025.40,942.00 L2028.90,939.60 L2028.90,944.40 Z" fill="#1a171b"/><line x1="2037.9" y1="942" x2="2046.06" y2="945.80" stroke="#1a171b" stroke-width="2"/><path d="M2046.06,945.80 L2041.87,946.50 L2043.90,942.15 Z" fill="#1a171b"/>
<circle cx="2706.9" cy="942" r="15.2" fill="none" stroke="#1a171b" stroke-width="1.3"/><circle cx="2706.90" cy="929.70" r="0.9" fill="#1a171b"/><circle cx="2713.05" cy="931.35" r="0.9" fill="#1a171b"/><circle cx="2717.55" cy="935.85" r="0.9" fill="#1a171b"/><circle cx="2719.20" cy="942.00" r="0.9" fill="#1a171b"/><circle cx="2717.55" cy="948.15" r="0.9" fill="#1a171b"/><circle cx="2713.05" cy="952.65" r="0.9" fill="#1a171b"/><circle cx="2706.90" cy="954.30" r="0.9" fill="#1a171b"/><circle cx="2700.75" cy="952.65" r="0.9" fill="#1a171b"/><circle cx="2696.25" cy="948.15" r="0.9" fill="#1a171b"/><circle cx="2694.60" cy="942.00" r="0.9" fill="#1a171b"/><circle cx="2696.25" cy="935.85" r="0.9" fill="#1a171b"/><circle cx="2700.75" cy="931.35" r="0.9" fill="#1a171b"/><line x1="2706.9" y1="942" x2="2719.40" y2="942.00" stroke="#1a171b" stroke-width="2"/><path d="M2719.40,942.00 L2715.90,944.40 L2715.90,939.60 Z" fill="#1a171b"/><line x1="2706.9" y1="942" x2="2701.74" y2="949.37" stroke="#1a171b" stroke-width="2"/><path d="M2701.74,949.37 L2701.78,945.13 L2705.71,947.88 Z" fill="#1a171b"/>
<circle cx="2943.9" cy="942" r="15.2" fill="none" stroke="#1a171b" stroke-width="1.3"/><circle cx="2943.90" cy="929.70" r="0.9" fill="#1a171b"/><circle cx="2950.05" cy="931.35" r="0.9" fill="#1a171b"/><circle cx="2954.55" cy="935.85" r="0.9" fill="#1a171b"/><circle cx="2956.20" cy="942.00" r="0.9" fill="#1a171b"/><circle cx="2954.55" cy="948.15" r="0.9" fill="#1a171b"/><circle cx="2950.05" cy="952.65" r="0.9" fill="#1a171b"/><circle cx="2943.90" cy="954.30" r="0.9" fill="#1a171b"/><circle cx="2937.75" cy="952.65" r="0.9" fill="#1a171b"/><circle cx="2933.25" cy="948.15" r="0.9" fill="#1a171b"/><circle cx="2931.60" cy="942.00" r="0.9" fill="#1a171b"/><circle cx="2933.25" cy="935.85" r="0.9" fill="#1a171b"/><circle cx="2937.75" cy="931.35" r="0.9" fill="#1a171b"/><line x1="2943.9" y1="942" x2="2956.40" y2="942.00" stroke="#1a171b" stroke-width="2"/><path d="M2956.40,942.00 L2952.90,944.40 L2952.90,939.60 Z" fill="#1a171b"/><line x1="2943.9" y1="942" x2="2935.44" y2="945.08" stroke="#1a171b" stroke-width="2"/><path d="M2935.44,945.08 L2937.91,941.63 L2939.55,946.14 Z" fill="#1a171b"/>
</svg></body></html>
